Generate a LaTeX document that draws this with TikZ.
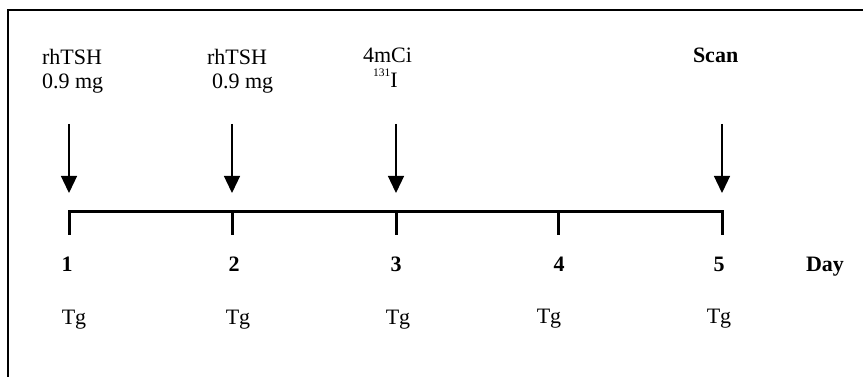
\documentclass[tikz,border=0pt]{standalone}
\usepackage{fontspec}
\setmainfont{Liberation Serif}
\usetikzlibrary{arrows.meta}
\begin{document}
\begin{tikzpicture}[x=1pt,y=-1pt,
  lbl/.style={inner sep=0pt,outer sep=0pt,anchor=base west,font=\fontsize{22}{24}\selectfont},
  num/.style={inner sep=0pt,outer sep=0pt,anchor=base,font=\fontsize{22}{24}\selectfont\bfseries},
  tg/.style={inner sep=0pt,outer sep=0pt,anchor=base,font=\fontsize{22}{24}\selectfont},
  dose/.style={line width=1.3pt,-{Triangle[length=17pt,width=16pt]}},
  axis/.style={line width=3pt,line join=miter},
  frame/.style={line width=2.6pt}]
\useasboundingbox (0,0) rectangle (863,377);
% frame
\coordinate (fr1) at (863,10);
\coordinate (fr2) at (8,10);
\coordinate (fr3) at (8,377);
\draw[frame] (fr1) -- (fr2) -- (fr3);
% top labels
\node[lbl] (l1a) at (42,65) {rhTSH};
\node[lbl] (l1b) at (42,89) {0.9 mg};
\node[lbl] (l2a) at (207,65) {rhTSH};
\node[lbl] (l2b) at (212,89) {0.9 mg};
\node[lbl] (l3a) at (363,63) {4mCi};
\node[lbl] (l3b) at (373,88) {\raisebox{11pt}{\fontsize{11.5}{12}\selectfont 131}I};
\node[lbl,font=\fontsize{22}{24}\selectfont\bfseries] (l5a) at (693,63) {Scan};
% arrows
\foreach \i/\x in {1/69,2/232,3/396,5/722}{
  \coordinate (as\i) at (\x,124);
  \coordinate (ae\i) at (\x,193);
  \draw[dose] (as\i) -- (ae\i);
}
% timeline
\foreach \i/\x in {1/69,2/232,3/396,4/558,5/722}{
  \coordinate (t\i) at (\x,212);
  \coordinate (b\i) at (\x,235);
}
\draw[axis] (b1) -- (t1) -- (t5) -- (b5);
\draw[axis] (t2) -- (b2);
\draw[axis] (t3) -- (b3);
\draw[axis] (t4) -- (b4);
% day numbers
\node[num] (d1) at (67,271) {1};
\node[num] (d2) at (234,271) {2};
\node[num] (d3) at (396,271) {3};
\node[num] (d4) at (559,271) {4};
\node[num] (d5) at (719,271) {5};
\node[num,anchor=base west] (day) at (806,271) {Day};
% Tg
\node[tg] (g1) at (74,324) {Tg};
\node[tg] (g2) at (238,324) {Tg};
\node[tg] (g3) at (398,324) {Tg};
\node[tg] (g4) at (549,323) {Tg};
\node[tg] (g5) at (719,323) {Tg};
\end{tikzpicture}
\end{document}
